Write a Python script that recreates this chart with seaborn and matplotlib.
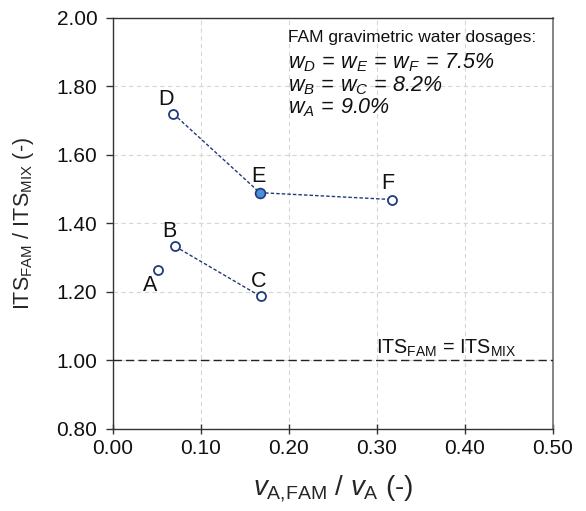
import matplotlib
matplotlib.use("Agg")
import matplotlib.pyplot as plt
import seaborn as sns
import pandas as pd

labels = ["A", "B", "C", "D", "E", "F"]
x_vals = [0.051, 0.071, 0.168, 0.069, 0.167, 0.317]
y_vals = [1.265, 1.333, 1.187, 1.720, 1.490, 1.470]
groups = ["A", "BC", "BC", "DEF", "DEF", "DEF"]
filled = [False, False, False, False, True, False]
x_ticks = [0.0, 0.1, 0.2, 0.3, 0.4, 0.5]
y_ticks = [0.8, 1.0, 1.2, 1.4, 1.6, 1.8, 2.0]

df = pd.DataFrame({"label": labels, "x": x_vals, "y": y_vals,
                   "group": groups, "filled": filled})

sns.set_theme(style="white")
plt.rcParams["font.family"] = ["Liberation Sans", "DejaVu Sans"]
plt.rcParams["mathtext.fontset"] = "custom"
plt.rcParams["mathtext.rm"] = "Liberation Sans"
plt.rcParams["mathtext.it"] = "Liberation Sans:italic"
plt.rcParams["mathtext.sf"] = "Liberation Sans:italic"
plt.rcParams["mathtext.bf"] = "Liberation Sans:bold"
plt.rcParams["text.color"] = "#111111"
plt.rcParams["xtick.color"] = "#111111"
plt.rcParams["ytick.color"] = "#111111"

fig = plt.figure(figsize=(5.86, 5.11), dpi=100)
ax = fig.add_axes([0.1923, 0.1605, 0.7514, 0.8043])

navy = "#1f3b7a"
lines_df = df[df["group"] != "A"]
sns.lineplot(data=lines_df, x="x", y="y", units="group", estimator=None,
             sort=False, color=navy, linestyle=(0, (2.5, 1.5)), linewidth=1.0,
             ax=ax, legend=False)

open_df = df[~df["filled"]]
fill_df = df[df["filled"]]
sns.scatterplot(data=open_df, x="x", y="y", s=42, facecolor="white",
                edgecolor=navy, linewidth=1.3, ax=ax, zorder=5)
sns.scatterplot(data=fill_df, x="x", y="y", s=50, color="#4a90d9",
                edgecolor=navy, linewidth=1.2, ax=ax, zorder=5)

offsets = {"A": (-0.008, -0.047), "B": (-0.007, 0.043), "C": (-0.002, 0.043),
           "D": (-0.008, 0.043), "E": (-0.001, 0.046), "F": (-0.005, 0.046)}
for lab, xv, yv in zip(labels, x_vals, y_vals):
    dx, dy = offsets[lab]
    ax.text(xv + dx, yv + dy, lab, fontsize=15.5, ha="center", va="center")

ax.axhline(1.0, color="#222222", linestyle=(0, (6, 3)), linewidth=1.0, zorder=3)
ax.text(0.299, 1.036, r"ITS$_{\mathrm{FAM}}$ = ITS$_{\mathrm{MIX}}$",
        fontsize=14.2, ha="left", va="center")

ax.text(0.199, 1.943, "FAM gravimetric water dosages:", fontsize=12.5,
        ha="left", va="center")
ax.text(0.199, 1.868, r"$\mathsf{w_D\,=\,w_E\,=\,w_F\,=\,7.5\%}$", fontsize=15.5,
        ha="left", va="center")
ax.text(0.199, 1.803, r"$\mathsf{w_B\,=\,w_C\,=\,8.2\%}$", fontsize=15.5,
        ha="left", va="center")
ax.text(0.199, 1.737, r"$\mathsf{w_A\,=\,9.0\%}$", fontsize=15.5,
        ha="left", va="center")

ax.set_xlim(0, 0.5)
ax.set_ylim(0.8, 2.0)
ax.set_xticks(x_ticks)
ax.set_yticks(y_ticks)
ax.set_xticklabels([f"{v:.2f}" for v in x_ticks], fontsize=15)
ax.set_yticklabels([f"{v:.2f}" for v in y_ticks], fontsize=15)
ax.tick_params(axis="x", direction="inout", length=7, width=1, color="#333333",
               pad=4, bottom=True)
ax.tick_params(axis="y", direction="out", length=5, width=1, color="#333333",
               pad=6, left=True)
ax.grid(True, color="#d6d6d6", linestyle=(0, (4, 3)), linewidth=0.8)
ax.set_axisbelow(True)

for side in ["left", "bottom", "top"]:
    ax.spines[side].set_color("#333333")
    ax.spines[side].set_linewidth(1.0)
ax.spines["right"].set_color("#707070")
ax.spines["right"].set_linewidth(1.2)

ax.set_xlabel(r"$\mathit{v}_{\mathrm{A{,}FAM}}$ / $\mathit{v}_{\mathrm{A}}$ (-)",
              fontsize=20, labelpad=11)
ax.set_ylabel(r"ITS$_{\mathrm{FAM}}$ / ITS$_{\mathrm{MIX}}$ (-)",
              fontsize=15.5, labelpad=15)

fig.savefig("out.png", dpi=100)
